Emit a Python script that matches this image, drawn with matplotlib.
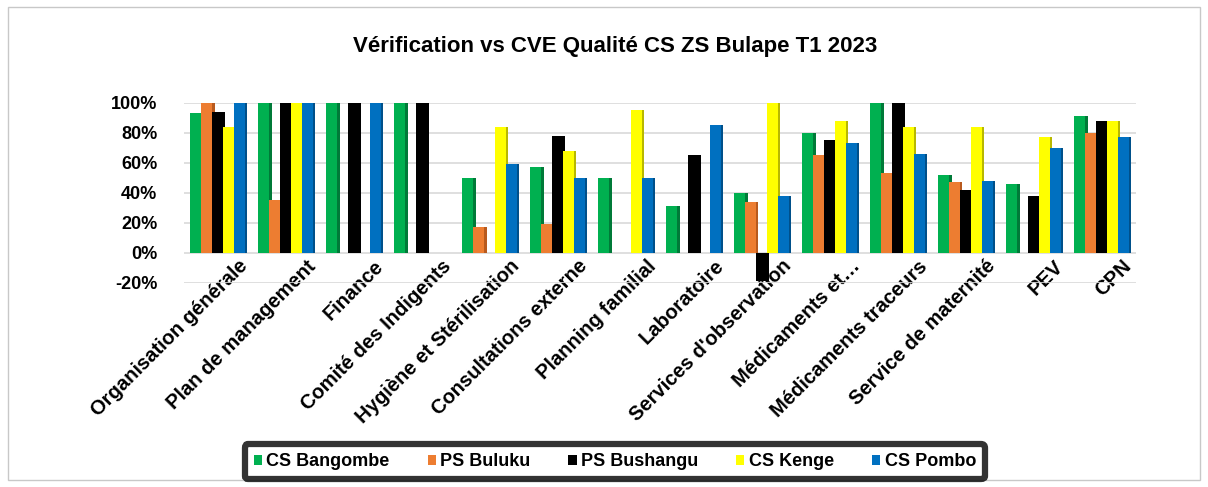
import numpy as np
import matplotlib
matplotlib.use("Agg")
import matplotlib.pyplot as plt
from matplotlib.patches import Rectangle
from matplotlib.ticker import PercentFormatter

plt.rcParams["font.family"] = ["Liberation Sans", "DejaVu Sans"]
plt.rcParams["axes.unicode_minus"] = False

categories = [
    "Organisation générale", "Plan de management", "Finance",
    "Comité des Indigents", "Hygiène et Stérilisation", "Consultations externe",
    "Planning familial", "Laboratoire", "Services d'observation",
    "Médicaments et…", "Médicaments traceurs", "Service de maternité",
    "PEV", "CPN",
]

series_names = ["CS Bangombe", "PS Buluku", "PS Bushangu", "CS Kenge", "CS Pombo"]

bangombe = [93, 100, 100, 100, 50, 57, 50, 31, 40, 80, 100, 52, 46, 91]
buluku = [100, 35, 0, 0, 17, 19, 0, 0, 34, 65, 53, 47, 0, 80]
bushangu = [94, 100, 100, 100, 0, 78, 0, 65, -19, 75, 100, 42, 38, 88]
kenge = [84, 100, 0, 0, 84, 68, 95, 0, 100, 88, 84, 84, 77, 88]
pombo = [100, 100, 100, 0, 59, 50, 50, 85, 38, 73, 66, 48, 70, 77]

colors = ["#00B050", "#ED7D31", "#000000", "#FFFF00", "#0070C0"]
dark = ["#007A38", "#B85A1E", "#000000", "#B8B800", "#00508A"]

fig = plt.figure(figsize=(12.08, 4.87), dpi=100)
fig.patches.append(Rectangle((0.007, 0.015), 0.986, 0.97, transform=fig.transFigure,
                             fill=False, edgecolor="#C8C8C8", linewidth=1))

ax = fig.add_axes([0.152, 0.419, 0.788, 0.370])

x = np.arange(len(categories))
w = 0.16
all_vals = [bangombe, buluku, bushangu, kenge, pombo]
for i, (name, vals) in enumerate(zip(series_names, all_vals)):
    off = (i - 2) * w
    # side face for a bit of depth
    ax.bar(x + off + 0.035, vals, width=w, color=dark[i], zorder=2)
    ax.bar(x + off, vals, width=w, color=colors[i], label=name, zorder=3)

ax.set_xlim(-0.5, len(categories) - 0.5)
ax.set_ylim(-20, 100)
ax.set_yticks(range(-20, 101, 20))
ax.yaxis.set_major_formatter(PercentFormatter(decimals=0))
ax.grid(axis="y", color="#D9D9D9", linewidth=1.2, zorder=0)
ax.set_axisbelow(True)
for s in ax.spines.values():
    s.set_visible(False)
ax.tick_params(axis="both", length=0)
ax.tick_params(axis="y", pad=19, labelsize=13)
for t in ax.get_yticklabels():
    t.set_fontweight("bold")

ax.set_xticks(x + 0.3)
ax.set_xticklabels(categories, rotation=45, ha="right", rotation_mode="anchor",
                   fontsize=14.5, fontweight="bold")
ax.tick_params(axis="x", pad=-19)

fig.text(0.509, 0.905, "Vérification vs CVE Qualité CS ZS Bulape T1 2023",
         ha="center", va="center", fontsize=16, fontweight="bold")

leg = fig.legend(loc="center", bbox_to_anchor=(0.509, 0.052), ncol=5,
                 frameon=True, fancybox=True, handlelength=0.45, handleheight=0.45,
                 handletextpad=0.25, columnspacing=2.1, borderpad=0.5,
                 prop={"weight": "bold", "size": 13})
leg.get_frame().set_edgecolor("black")
leg.get_frame().set_linewidth(4.5)

fig.savefig("out.png", dpi=100)
